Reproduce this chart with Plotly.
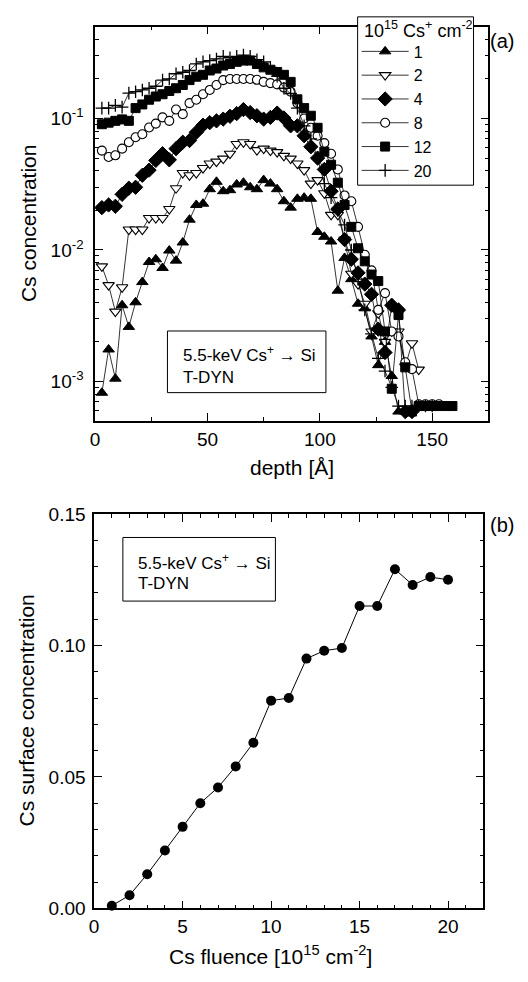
import math
import plotly.graph_objects as go

# ---------------- data (panel a) ----------------
depth = [3, 6, 9, 12, 15, 18, 21, 24, 27, 30, 33, 36, 39, 42, 45, 48, 51, 54, 57, 60,
         63, 66, 69, 72, 75, 78, 81, 84, 87, 90, 93, 96, 99, 102, 105, 108, 111, 114,
         117, 120, 123, 126, 129, 132, 135, 138, 141, 144, 147, 150, 153, 156, 159]

fluence_labels = ["1", "2", "4", "8", "12", "20"]

conc_1 = [8.2e-4, 1.75e-3, 1.05e-3, 3.8e-3, 2.6e-3, 4.0e-3, 5.7e-3, 8.1e-3, 8.5e-3, 7.3e-3,
          9.9e-3, 8.3e-3, 1.14e-2, 1.7e-2, 2.2e-2, 2.25e-2, 2.9e-2, 3.3e-2, 2.8e-2, 2.85e-2,
          3.15e-2, 3.25e-2, 3.0e-2, 2.9e-2, 3.4e-2, 3.2e-2, 2.9e-2, 2.35e-2, 2.1e-2, 2.45e-2,
          2.5e-2, 2.45e-2, 1.37e-2, 1.26e-2, 1.16e-2, 4.9e-3, 8.7e-3, 6.0e-3, 3.9e-3, 3.6e-3,
          2.2e-3, 1.33e-3, 2.0e-3, 1.1e-3, 5.9e-4, 5.9e-4]

conc_2 = [7.5e-3, 5.4e-3, 3.4e-3, 5.2e-3, 1.43e-2, 1.43e-2, 1.43e-2, 1.75e-2, 1.75e-2, 1.75e-2,
          2.05e-2, 2.95e-2, 3.85e-2, 3.7e-2, 3.85e-2, 4.2e-2, 4.55e-2, 4.7e-2, 4.95e-2, 5.4e-2,
          6.4e-2, 6.6e-2, 6.4e-2, 5.75e-2, 5.9e-2, 5.7e-2, 5.55e-2, 5.2e-2, 4.95e-2, 4.55e-2,
          4.05e-2, 3.2e-2, 3.4e-2, 2.7e-2, 1.85e-2, 1.85e-2, 1.2e-2, 6.6e-3, 5.5e-3, 3.9e-3,
          2.4e-3, 3.3e-3, 2.0e-3, 2.4e-3, 2.4e-3, 1.3e-3, 1.95e-3, 1.23e-3]

conc_4 = [2.1e-2, 2.2e-2, 2.15e-2, 2.65e-2, 2.95e-2, 3.0e-2, 3.7e-2, 4.05e-2, 4.8e-2, 5.4e-2,
          4.85e-2, 5.9e-2, 6.6e-2, 6.8e-2, 7.85e-2, 8.9e-2, 9.3e-2, 9.6e-2, 9.9e-2, 1.04e-1,
          1.09e-1, 1.17e-1, 1.11e-1, 1.05e-1, 9.9e-2, 1.02e-1, 1.1e-1, 1.01e-1, 8.8e-2, 8.8e-2,
          7.4e-2, 6.1e-2, 5.0e-2, 4.1e-2, 2.8e-2, 2.05e-2, 1.2e-2, 8.5e-3, 6.7e-3, 5.5e-3,
          4.6e-3, 2.5e-3, 1.66e-3, 3.8e-3, 3.5e-3, 5.9e-4, 5.9e-4]

conc_8 = [5.7e-2, 5.1e-2, 5.25e-2, 5.9e-2, 6.6e-2, 7.2e-2, 7.6e-2, 8.55e-2, 9.15e-2, 1.02e-1,
          9.6e-2, 1.17e-1, 1.08e-1, 1.31e-1, 1.39e-1, 1.53e-1, 1.65e-1, 1.8e-1, 1.96e-1, 2.0e-1,
          2.0e-1, 2.0e-1, 2.0e-1, 1.97e-1, 1.9e-1, 1.86e-1, 1.82e-1, 1.72e-1, 1.6e-1, 1.31e-1,
          1.0e-1, 8.5e-2, 7.4e-2, 6.5e-2, 5.4e-2, 4.1e-2, 2.6e-2, 2.35e-2, 1.5e-2, 9.2e-3,
          7.0e-3, 3.5e-3, 4.7e-3, 2.4e-3, 2.2e-3, 1.4e-3, 1.24e-3, 6.7e-4, 6.7e-4, 6.7e-4,
          6.7e-4]

conc_12 = [9.05e-2, 9.3e-2, 9.6e-2, 9.85e-2, 9.6e-2, 1.2e-1, 1.28e-1, 1.39e-1, 1.47e-1, 1.53e-1,
           1.62e-1, 1.7e-1, 1.8e-1, 1.96e-1, 2.08e-1, 2.15e-1, 2.32e-1, 2.4e-1, 2.53e-1, 2.6e-1,
           2.7e-1, 2.76e-1, 2.76e-1, 2.6e-1, 2.45e-1, 2.35e-1, 2.26e-1, 2.15e-1, 1.9e-1, 1.4e-1,
           1.2e-1, 1.05e-1, 8.5e-2, 5.6e-2, 4.45e-2, 3.25e-2, 2.2e-2, 1.5e-2, 1.03e-2, 8.2e-3,
           6.5e-3, 5.8e-3, 2.4e-3, 8.8e-4, 3.2e-3, 1.28e-3, 5.9e-4, 6.5e-4, 6.5e-4, 6.5e-4,
           6.5e-4, 6.5e-4, 6.5e-4]

conc_20 = [1.2e-1, 1.2e-1, 1.26e-1, 1.22e-1, 1.56e-1, 1.6e-1, 1.65e-1, 1.7e-1, 1.76e-1, 1.96e-1,
           2.0e-1, 2.19e-1, 2.25e-1, 2.32e-1, 2.6e-1, 2.7e-1, 2.76e-1, 2.84e-1, 2.97e-1, 2.9e-1,
           2.97e-1, 3.04e-1, 2.97e-1, 2.8e-1, 2.7e-1, 2.45e-1, 2.1e-1, 1.7e-1, 1.55e-1, 1.2e-1,
           8.8e-2, 7.0e-2, 5.0e-2, 3.2e-2, 2.5e-2, 2.0e-2, 1.55e-2, 1.0e-2, 6.0e-3, 3.5e-3,
           2.3e-3, 1.5e-3, 1.2e-3, 9.0e-4, 6.5e-4, 6.5e-4, 6.5e-4, 6.5e-4, 6.5e-4, 6.5e-4]

# ---------------- data (panel b) ----------------
fluence = [1, 2, 3, 4, 5, 6, 7, 8, 9, 10, 11, 12, 13, 14, 15, 16, 17, 18, 19, 20]
surface_conc = [0.001, 0.005, 0.013, 0.022, 0.031, 0.040, 0.046, 0.054, 0.063, 0.079,
                0.080, 0.095, 0.098, 0.099, 0.115, 0.115, 0.129, 0.123, 0.126, 0.125]

# ---------------- figure ----------------
W, H = 528, 982
FONT = "Liberation Sans, Arial, sans-serif"


def px(x):
    return x / W


def py(y):
    return 1 - y / H


series = [conc_1, conc_2, conc_4, conc_8, conc_12, conc_20]
styles = [
    dict(symbol="triangle-up", color="black", size=10, lw=1),
    dict(symbol="triangle-down", color="white", size=10, lw=1.1),
    dict(symbol="diamond", color="black", size=11, lw=1),
    dict(symbol="circle", color="white", size=9, lw=1.1),
    dict(symbol="square", color="black", size=9, lw=1),
    dict(symbol="cross-thin", color="black", size=9, lw=1.3),
]

fig = go.Figure()
for name, vals, st in zip(fluence_labels, series, styles):
    fig.add_trace(go.Scatter(
        x=depth[:len(vals)], y=vals, name=name, mode="lines+markers",
        xaxis="x", yaxis="y",
        line=dict(color="black", width=0.8),
        marker=dict(symbol=st["symbol"], size=st["size"], color=st["color"],
                    line=dict(color="black", width=st["lw"])),
    ))

fig.add_trace(go.Scatter(
    x=fluence, y=surface_conc, mode="lines+markers", showlegend=False,
    xaxis="x2", yaxis="y2", cliponaxis=False,
    line=dict(color="black", width=1),
    marker=dict(symbol="circle", size=10, color="black"),
))

log_minor = []
for dec in [1e-4, 1e-3, 1e-2, 1e-1]:
    for m in range(2, 10):
        v = m * dec
        if 5e-4 <= v <= 0.5:
            log_minor.append(v)

axis_common = dict(
    showline=True, linecolor="black", linewidth=1.6, mirror="allticks",
    ticks="inside", ticklen=8, tickwidth=1.2, tickcolor="black",
    showgrid=False, zeroline=False,
    tickfont=dict(family=FONT, size=19, color="black"),
)

fig.update_layout(
    width=W, height=H,
    margin=dict(l=0, r=0, t=0, b=0),
    paper_bgcolor="white", plot_bgcolor="white",
    font=dict(family=FONT, color="black"),
    xaxis=dict(domain=[px(91), px(488)], anchor="y", range=[0, 175],
               tickvals=[0, 50, 100, 150],
               minor=dict(tickvals=[25, 75, 125, 175], ticks="inside", ticklen=4,
                          tickcolor="black", tickwidth=1.2),
               **axis_common),
    yaxis=dict(domain=[py(420), py(17)], anchor="x", type="log",
               range=[math.log10(5e-4), math.log10(0.5)],
               tickvals=[1e-3, 1e-2, 1e-1],
               ticktext=["10<sup>-3</sup>", "10<sup>-2</sup>", "10<sup>-1</sup>"],
               minor=dict(tickvals=log_minor, ticks="inside", ticklen=4,
                          tickcolor="black", tickwidth=1.2),
               ticklabelstandoff=6,
               **axis_common),
    xaxis2=dict(domain=[px(90), px(483)], anchor="y2", range=[0, 22],
                tickvals=[0, 5, 10, 15, 20],
                minor=dict(dtick=1, ticks="inside", ticklen=4,
                           tickcolor="black", tickwidth=1.2),
                **axis_common),
    yaxis2=dict(domain=[py(918), py(515)], anchor="x2", range=[0, 0.15],
                tickvals=[0, 0.05, 0.10, 0.15],
                ticktext=["0.00", "0.05", "0.10", "0.15"],
                minor=dict(dtick=0.01, ticks="inside", ticklen=4,
                           tickcolor="black", tickwidth=1.2),
                ticklabelstandoff=3,
                **axis_common),
    legend=dict(
        x=px(355), y=py(25), xanchor="left", yanchor="top",
        bgcolor="rgba(0,0,0,0)", borderwidth=0,
        font=dict(family=FONT, size=16, color="black"),
        itemwidth=47,
        tracegroupgap=0,
    ),
)

# boxes (legend frame and text boxes)
fig.add_shape(type="rect", xref="paper", yref="paper",
              x0=px(356), x1=px(473), y0=py(179), y1=py(7),
              line=dict(color="black", width=1), fillcolor="white", layer="above")
fig.add_shape(type="rect", xref="paper", yref="paper",
              x0=px(164), x1=px(324), y0=py(391), y1=py(328),
              line=dict(color="black", width=1), fillcolor="white", layer="above")
fig.add_shape(type="rect", xref="paper", yref="paper",
              x0=px(119), x1=px(273), y0=py(604), y1=py(539),
              line=dict(color="black", width=1), fillcolor="white", layer="above")

annots = [
    dict(x=px(360), y=py(20), text="10<sup>15</sup> Cs<sup>+</sup> cm<sup>-2</sup>",
         xanchor="left", size=18),
    dict(x=px(178), y=py(352), text="5.5-keV Cs<sup>+</sup> → Si", xanchor="left", size=17),
    dict(x=px(178), y=py(376), text="T-DYN", xanchor="left", size=17),
    dict(x=px(132), y=py(564), text="5.5-keV Cs<sup>+</sup> → Si", xanchor="left", size=17),
    dict(x=px(132), y=py(586), text="T-DYN", xanchor="left", size=17),
    dict(x=px(488), y=py(32), text="(a)", xanchor="left", size=20),
    dict(x=px(488), y=py(526), text="(b)", xanchor="left", size=20),
    dict(x=px(290), y=py(468), text="depth [Å]", xanchor="center", size=21),
    dict(x=px(268), y=py(966), text="Cs fluence [10<sup>15</sup> cm<sup>-2</sup>]",
         xanchor="center", size=21),
]
for a in annots:
    fig.add_annotation(x=a["x"], y=a["y"], xref="paper", yref="paper", text=a["text"],
                       showarrow=False, xanchor=a["xanchor"], yanchor="middle",
                       align="left", font=dict(family=FONT, size=a["size"], color="black"))

fig.add_annotation(x=px(24), y=py(218), xref="paper", yref="paper", text="Cs concentration",
                   showarrow=False, textangle=-90, xanchor="center", yanchor="middle",
                   font=dict(family=FONT, size=21, color="black"))
fig.add_annotation(x=px(22), y=py(716), xref="paper", yref="paper",
                   text="Cs surface concentration",
                   showarrow=False, textangle=-90, xanchor="center", yanchor="middle",
                   font=dict(family=FONT, size=21, color="black"))

fig.write_html("out.html")
